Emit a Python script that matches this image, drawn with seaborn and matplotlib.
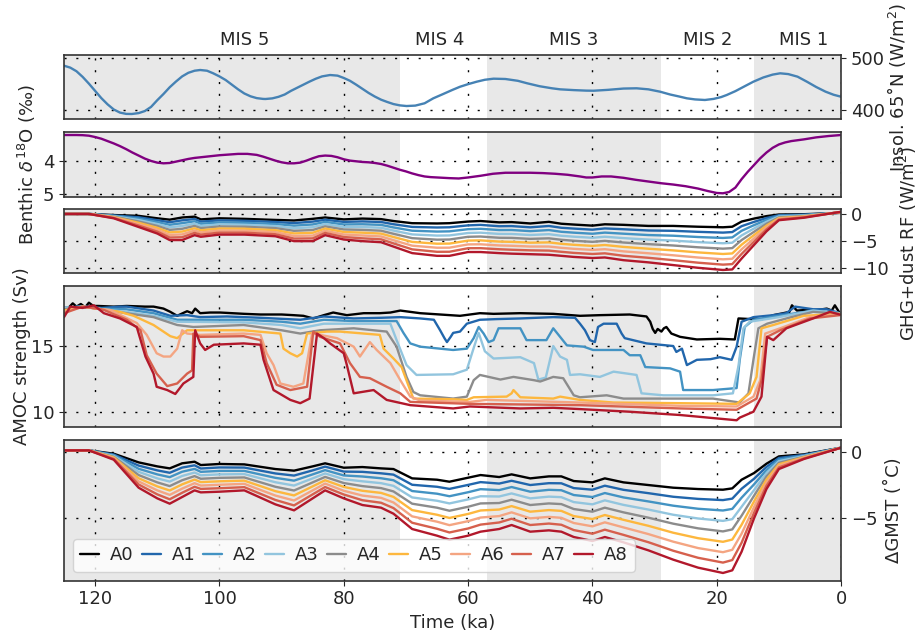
import pandas as pd
import matplotlib
matplotlib.use("Agg")
import matplotlib.pyplot as plt
from matplotlib.lines import Line2D
import seaborn as sns

sns.set_style("ticks")
plt.rcParams["font.family"] = ["DejaVu Sans"]
plt.rcParams["font.size"] = 13

RUNS = ["A0", "A1", "A2", "A3", "A4", "A5", "A6", "A7", "A8"]
COLORS = ["#000000", "#2166ac", "#4393c3", "#92c5de", "#8c8c8c",
          "#fdb73e", "#f4a582", "#d6604d", "#b2182b"]

MIS_LABELS = ["MIS 5", "MIS 4", "MIS 3", "MIS 2", "MIS 1"]
MIS_CENTERS = [96, 64.5, 43, 21.5, 6]
GRAY_SPANS = [(130, 71), (57, 29), (14, 0)]
XTICKS = [120, 100, 80, 60, 40, 20, 0]

# insolation 65N
INSOL_T = [125, 124, 123, 122, 121, 120, 119, 118, 117, 116, 115, 114.1,
           113, 112, 111, 110, 109, 108, 107, 106, 105, 104, 103.1,
           102, 101, 100, 99, 98, 97, 96, 95, 94, 93, 92.6,
           91.5, 90.5, 89.5, 88.5, 87.5, 86.5, 85.5, 84.5, 83.5, 82.2,
           81, 80, 79, 78, 77, 76, 75, 74, 73, 72, 71, 69.9,
           68.5, 67, 65.6, 64, 62.5, 61.3, 60, 58.6, 57.3, 55.9,
           54, 52, 50.5, 48.5, 46.5, 45.2, 43, 41, 39.8, 37.5, 35, 32.9,
           31, 29.1, 27.5, 26, 24.8, 23.5, 21.9,
           20.5, 19.3, 18.4, 17, 15.5, 14.1, 12.5, 11, 9.8,
           8.5, 7, 5.5, 4, 2.5, 1.2, 0]
INSOL_V = [485.7, 482, 475, 464, 451, 437, 423, 411, 401, 395, 392.5, 392.3,
           394, 398, 406, 419, 431, 444, 455, 465, 472, 476, 477.4,
           476, 471, 465, 458, 449, 440, 432, 426.5, 423, 421.5, 421.3,
           422.5, 425.5, 430, 437, 443, 449, 455, 460.5, 465, 467.7,
           466.5, 462, 456.5, 449, 441, 433, 426, 420, 415.5, 411.5, 409, 407.7,
           408.5, 413, 422.6, 431, 439, 445, 450, 454.8, 458.5, 460.6,
           460, 456.5, 451.7, 446, 442, 440, 438.5, 437.5, 437.3, 439, 441.5, 442,
           440, 435.4, 430, 426, 422.6, 420.5, 419.4,
           421.5, 425, 429, 436.5, 446, 454.8, 463, 468.5, 471,
           469.5, 464.5, 454.8, 444.5, 435.5, 429.5, 425.7]

# benthic d18O
BENTHIC_T = [125, 123, 122, 121, 120, 119, 118, 117, 116, 115, 114, 113, 112,
             111, 110, 109, 108, 107, 106, 105, 104, 103, 102, 101, 100, 98.5,
             97, 95.5, 94, 93, 92, 91, 90, 89, 88, 87, 86, 85, 84, 83, 82, 81,
             80, 79, 78, 77, 76, 75, 74, 73, 72, 71, 70, 69, 68, 67, 66, 65,
             63, 61.5, 60, 58, 56, 54, 52, 50, 48, 46, 44, 42, 41, 40, 38.5,
             37, 35, 33, 31, 29, 27, 25, 23, 21.5, 20, 19, 18, 17, 16, 15, 14,
             13, 12, 11, 10, 9, 8, 6, 4, 2, 0]
BENTHIC_V = [3.24, 3.24, 3.245, 3.26, 3.3, 3.35, 3.42, 3.49, 3.57, 3.66, 3.76, 3.85, 3.94,
             4.01, 4.06, 4.08, 4.07, 4.03, 3.99, 3.95, 3.92, 3.9, 3.88, 3.86, 3.84, 3.82,
             3.8, 3.8, 3.83, 3.88, 3.94, 4.0, 4.05, 4.08, 4.08, 4.06, 4.0, 3.93, 3.87, 3.85, 3.86, 3.9,
             3.96, 4.0, 4.02, 4.04, 4.05, 4.07, 4.1, 4.15, 4.21, 4.27, 4.32, 4.38, 4.43, 4.47, 4.49, 4.5,
             4.52, 4.53, 4.5, 4.45, 4.39, 4.36, 4.36, 4.36, 4.37, 4.39, 4.42, 4.47, 4.5, 4.5, 4.47,
             4.47, 4.51, 4.57, 4.62, 4.67, 4.71, 4.76, 4.83, 4.9, 4.96, 4.97, 4.93, 4.8, 4.55, 4.33, 4.13,
             3.93, 3.76, 3.62, 3.52, 3.46, 3.42, 3.37, 3.31, 3.27, 3.24]

# shared time axis for GHG+dust RF and GMST
TIME_FORCING = [125, 121, 117, 113, 110, 108, 106, 104, 103, 100, 96, 91, 88, 85,
                83, 80, 77, 74, 72, 69, 65, 63, 60, 58, 55, 53, 50, 47, 45, 43,
                40, 38, 35, 31, 27, 23, 19, 17.5, 16, 14, 12, 10, 6, 0]

RF_A0 = [0, 0, -0.2, -0.35, -0.8, -1.05, -0.65, -0.5, -1.0, -0.8, -0.9, -1.1, -1.2, -0.9, -0.65, -1.0, -0.85, -0.95, -1.3, -1.7, -1.75, -1.7, -1.4, -1.3, -1.55, -1.5, -1.75, -1.45, -1.8, -1.95, -2.15, -1.9, -2.0, -2.2, -2.2, -2.35, -2.45, -2.35, -1.4, -0.85, -0.4, -0.1, -0.05, 0.2]
RF_A1 = [0, 0, -0.28, -0.61, -1.15, -1.52, -1.17, -0.93, -1.4, -1.18, -1.26, -1.48, -1.68, -1.41, -1.06, -1.46, -1.37, -1.48, -1.89, -2.39, -2.49, -2.45, -2.1, -2.01, -2.26, -2.23, -2.46, -2.21, -2.54, -2.69, -2.89, -2.66, -2.81, -3.04, -3.1, -3.29, -3.43, -3.33, -2.25, -1.46, -0.75, -0.23, -0.13, 0.23]
RF_A2 = [0, 0, -0.35, -0.86, -1.5, -1.99, -1.69, -1.35, -1.8, -1.55, -1.63, -1.85, -2.15, -1.93, -1.46, -1.93, -1.89, -2.01, -2.48, -3.08, -3.24, -3.2, -2.8, -2.73, -2.96, -2.95, -3.16, -2.96, -3.28, -3.44, -3.64, -3.43, -3.63, -3.88, -4.0, -4.24, -4.41, -4.31, -3.1, -2.06, -1.1, -0.36, -0.21, 0.25]
RF_A3 = [0, 0, -0.43, -1.12, -1.85, -2.46, -2.21, -1.78, -2.2, -1.93, -1.99, -2.23, -2.63, -2.44, -1.87, -2.39, -2.41, -2.54, -3.06, -3.76, -3.98, -3.95, -3.5, -3.44, -3.67, -3.68, -3.87, -3.72, -4.01, -4.18, -4.38, -4.19, -4.44, -4.71, -4.9, -5.18, -5.39, -5.29, -3.95, -2.67, -1.45, -0.49, -0.29, 0.28]
RF_A4 = [0, 0, -0.5, -1.38, -2.2, -2.93, -2.73, -2.2, -2.6, -2.3, -2.35, -2.6, -3.1, -2.95, -2.28, -2.85, -2.93, -3.08, -3.65, -4.45, -4.73, -4.7, -4.2, -4.15, -4.38, -4.4, -4.58, -4.48, -4.75, -4.93, -5.13, -4.95, -5.25, -5.55, -5.8, -6.13, -6.38, -6.28, -4.8, -3.28, -1.8, -0.63, -0.38, 0.3]
RF_A5 = [0, 0, -0.58, -1.63, -2.55, -3.39, -3.24, -2.63, -3.0, -2.68, -2.71, -2.98, -3.58, -3.46, -2.68, -3.31, -3.44, -3.61, -4.24, -5.14, -5.47, -5.45, -4.9, -4.86, -5.08, -5.13, -5.28, -5.23, -5.49, -5.67, -5.87, -5.71, -6.06, -6.39, -6.7, -7.07, -7.36, -7.26, -5.65, -3.88, -2.15, -0.76, -0.46, 0.33]
RF_A6 = [0, 0, -0.65, -1.89, -2.9, -3.86, -3.76, -3.05, -3.4, -3.05, -3.08, -3.35, -4.05, -3.98, -3.09, -3.78, -3.96, -4.14, -4.83, -5.83, -6.21, -6.2, -5.6, -5.58, -5.79, -5.85, -5.99, -5.99, -6.23, -6.41, -6.61, -6.48, -6.88, -7.23, -7.6, -8.01, -8.34, -8.24, -6.5, -4.49, -2.5, -0.89, -0.54, 0.35]
RF_A7 = [0, 0, -0.73, -2.14, -3.25, -4.33, -4.28, -3.48, -3.8, -3.43, -3.44, -3.73, -4.53, -4.49, -3.49, -4.24, -4.48, -4.67, -5.41, -6.51, -6.96, -6.95, -6.3, -6.29, -6.49, -6.58, -6.69, -6.74, -6.96, -7.16, -7.36, -7.24, -7.69, -8.06, -8.5, -8.96, -9.32, -9.22, -7.35, -5.09, -2.85, -1.02, -0.62, 0.38]
RF_A8 = [0, 0, -0.8, -2.4, -3.6, -4.8, -4.8, -3.9, -4.2, -3.8, -3.8, -4.1, -5.0, -5.0, -3.9, -4.7, -5.0, -5.2, -6.0, -7.2, -7.7, -7.7, -7.0, -7.0, -7.2, -7.3, -7.4, -7.5, -7.7, -7.9, -8.1, -8.0, -8.5, -8.9, -9.4, -9.9, -10.3, -10.2, -8.2, -5.7, -3.2, -1.15, -0.7, 0.4]

GMST_A0 = [0.1, 0.1, -0.15, -0.8, -1.1, -1.25, -0.87, -0.75, -1.0, -0.92, -0.95, -1.3, -1.42, -1.1, -0.87, -1.2, -1.15, -1.25, -1.3, -2.0, -2.1, -2.25, -1.95, -1.75, -1.9, -1.7, -2.0, -1.85, -1.85, -2.2, -2.3, -2.0, -2.3, -2.5, -2.7, -2.8, -2.85, -2.75, -2.1, -1.6, -0.9, -0.35, -0.2, 0.3]
GMST_A1 = [0.1, 0.1, -0.21, -1.04, -1.4, -1.58, -1.19, -1.02, -1.26, -1.18, -1.19, -1.63, -1.79, -1.4, -1.12, -1.49, -1.51, -1.62, -1.72, -2.48, -2.63, -2.79, -2.49, -2.28, -2.39, -2.18, -2.5, -2.36, -2.37, -2.73, -2.85, -2.55, -2.86, -3.11, -3.38, -3.54, -3.63, -3.52, -2.78, -2.03, -1.14, -0.47, -0.24, 0.3]
GMST_A2 = [0.1, 0.1, -0.26, -1.28, -1.7, -1.91, -1.5, -1.29, -1.51, -1.44, -1.44, -1.96, -2.17, -1.7, -1.38, -1.78, -1.86, -1.99, -2.14, -2.95, -3.15, -3.34, -3.04, -2.81, -2.88, -2.65, -3.0, -2.86, -2.89, -3.25, -3.4, -3.1, -3.43, -3.73, -4.05, -4.28, -4.41, -4.29, -3.45, -2.45, -1.38, -0.59, -0.29, 0.3]
GMST_A3 = [0.1, 0.1, -0.32, -1.51, -2.0, -2.24, -1.82, -1.56, -1.77, -1.7, -1.68, -2.29, -2.54, -2.0, -1.63, -2.06, -2.22, -2.36, -2.56, -3.43, -3.68, -3.88, -3.58, -3.34, -3.36, -3.13, -3.5, -3.37, -3.41, -3.78, -3.95, -3.65, -3.99, -4.34, -4.73, -5.01, -5.19, -5.06, -4.13, -2.88, -1.61, -0.71, -0.33, 0.3]
GMST_A4 = [0.1, 0.1, -0.38, -1.75, -2.3, -2.58, -2.14, -1.83, -2.03, -1.96, -1.93, -2.63, -2.91, -2.3, -1.89, -2.35, -2.58, -2.73, -2.98, -3.9, -4.2, -4.43, -4.13, -3.88, -3.85, -3.6, -4.0, -3.88, -3.93, -4.3, -4.5, -4.2, -4.55, -4.95, -5.4, -5.75, -5.98, -5.83, -4.8, -3.3, -1.85, -0.83, -0.38, 0.3]
GMST_A5 = [0.1, 0.1, -0.43, -1.99, -2.6, -2.91, -2.45, -2.09, -2.28, -2.22, -2.17, -2.96, -3.28, -2.6, -2.14, -2.64, -2.93, -3.09, -3.39, -4.38, -4.73, -4.97, -4.67, -4.41, -4.34, -4.08, -4.5, -4.38, -4.44, -4.83, -5.05, -4.75, -5.11, -5.56, -6.08, -6.49, -6.76, -6.59, -5.48, -3.73, -2.09, -0.94, -0.42, 0.3]
GMST_A6 = [0.1, 0.1, -0.49, -2.23, -2.9, -3.24, -2.77, -2.36, -2.54, -2.48, -2.41, -3.29, -3.66, -2.9, -2.39, -2.93, -3.29, -3.46, -3.81, -4.85, -5.25, -5.51, -5.21, -4.94, -4.83, -4.55, -5.0, -4.89, -4.96, -5.35, -5.6, -5.3, -5.68, -6.18, -6.75, -7.23, -7.54, -7.36, -6.15, -4.15, -2.33, -1.06, -0.46, 0.3]
GMST_A7 = [0.1, 0.1, -0.54, -2.46, -3.2, -3.57, -3.08, -2.63, -2.79, -2.74, -2.66, -3.62, -4.03, -3.2, -2.65, -3.21, -3.64, -3.83, -4.23, -5.33, -5.78, -6.06, -5.76, -5.47, -5.31, -5.03, -5.5, -5.39, -5.48, -5.88, -6.15, -5.85, -6.24, -6.79, -7.43, -7.96, -8.32, -8.13, -6.83, -4.58, -2.56, -1.18, -0.51, 0.3]
GMST_A8 = [0.1, 0.1, -0.6, -2.7, -3.5, -3.9, -3.4, -2.9, -3.05, -3.0, -2.9, -3.95, -4.4, -3.5, -2.9, -3.5, -4.0, -4.2, -4.65, -5.8, -6.3, -6.6, -6.3, -6.0, -5.8, -5.5, -6.0, -5.9, -6.0, -6.4, -6.7, -6.4, -6.8, -7.4, -8.1, -8.7, -9.1, -8.9, -7.5, -5.0, -2.8, -1.3, -0.55, 0.3]

# AMOC strength, each run on its own time points
AMOC_T_A0 = [125, 124.3, 123.6, 123, 122.3, 121.6, 121, 120.3, 119.5, 117, 114.9, 112, 110.6, 109, 107.9, 106.8, 105.9, 105.2, 104.4, 103.9, 103.1, 101.5, 99.9, 96, 93.4, 90, 88.1, 86.5, 84.9, 83.2, 81.7, 79.5, 76.8, 74.2, 72.5, 70.9, 67.7, 64.5, 61.3, 58.1, 55.9, 51.6, 46.3, 42.0, 38.8, 34.0, 31.3, 30.7, 30.3, 29.9, 29.5, 28.9, 28.5, 28.1, 27.3, 25.9, 23.2, 19.5, 17.1, 16.5, 14.5, 13.0, 10.9, 9.3, 8.3, 7.9, 7.1, 5.5, 4.5, 3.0, 2.3, 1.5, 1.0, 0.2]
AMOC_A0 = [17.9, 17.9, 18.25, 18.0, 18.2, 17.95, 18.3, 18.05, 18.05, 18.0, 18.05, 18.0, 18.0, 17.85, 17.6, 17.3, 17.5, 17.65, 17.5, 17.85, 17.5, 17.55, 17.55, 17.45, 17.4, 17.4, 17.35, 17.3, 17.1, 17.35, 17.55, 17.35, 17.5, 17.5, 17.55, 17.7, 17.5, 17.4, 17.3, 17.5, 17.45, 17.5, 17.45, 17.3, 17.35, 17.4, 17.25, 16.85, 16.3, 16.0, 16.3, 16.1, 16.35, 16.45, 15.95, 15.7, 15.5, 15.55, 15.5, 17.1, 17.05, 17.0, 17.35, 17.5, 17.6, 18.1, 17.7, 17.75, 17.7, 17.8, 17.85, 17.7, 18.1, 17.5]
AMOC_T_A1 = [125, 123, 121, 119, 116, 114.9, 110.6, 107.9, 105.2, 103.1, 98.8, 93.4, 87.0, 83.2, 78.4, 74, 70.9, 67.7, 65.5, 64.5, 63.8, 63.4, 62.8, 62.4, 61.3, 60.2, 58.1, 55.4, 51.6, 46.3, 42.8, 42.0, 41.2, 40.4, 39.6, 39.1, 38.2, 36.1, 35.3, 34.8, 31.3, 27.0, 26.5, 25.6, 24.8, 23.2, 21, 19.5, 17.6, 16.8, 16.0, 14.1, 10.9, 8.8, 7.4, 4.5, 2.3, 0.2]
AMOC_A1 = [17.7, 18.0, 18.0, 17.9, 18.0, 18.0, 17.7, 17.3, 17.35, 17.2, 17.25, 17.15, 17.0, 17.25, 17.1, 17.15, 17.2, 17.1, 17.0, 16.2, 15.6, 15.3, 15.7, 16.0, 16.1, 16.7, 17.0, 17.05, 17.1, 17.2, 17.15, 16.7, 16.2, 15.45, 15.3, 16.45, 16.7, 16.7, 15.95, 15.6, 15.2, 15.0, 14.55, 14.8, 13.55, 13.95, 14.0, 14.15, 13.95, 14.95, 16.85, 17.2, 17.35, 17.5, 18.0, 17.8, 17.8, 17.5]
AMOC_T_A2 = [125, 122, 119, 115, 110.6, 106.8, 103.1, 96.1, 90, 87.0, 83.2, 78.4, 71.5, 70.4, 69.3, 67.7, 62.4, 60.2, 59.1, 58.3, 57.5, 56.7, 55.9, 55.1, 51.6, 50.6, 47.4, 46.3, 45.2, 44.1, 41.4, 39.9, 35.0, 34.0, 32.3, 31.5, 27.5, 25.9, 25.4, 20.6, 16.8, 16.3, 15.5, 14.1, 10, 4.5, 0.2]
AMOC_A2 = [17.9, 18.0, 17.85, 17.8, 17.5, 17.0, 17.0, 17.0, 16.85, 16.7, 17.0, 16.9, 16.9, 16.0, 15.2, 14.95, 14.7, 14.8, 15.6, 16.45, 15.95, 15.3, 15.45, 16.35, 16.35, 15.45, 15.45, 16.35, 15.7, 15.05, 14.95, 14.7, 14.7, 14.3, 14.3, 13.4, 13.3, 13.05, 11.65, 11.65, 11.8, 13.95, 16.45, 17.0, 17.3, 17.7, 17.5]
AMOC_T_A3 = [125, 122, 119, 115, 110.6, 106.8, 96.1, 90, 87.0, 83.2, 78.4, 72.5, 71.5, 69.9, 68.3, 62.4, 60.2, 59.0, 58.3, 57.3, 55.9, 51.6, 49.4, 48.7, 47.5, 46.3, 45.2, 44.1, 43.6, 42.0, 38.8, 36.6, 32.9, 32.1, 28.6, 20.6, 17.4, 16.5, 15.7, 14.7, 10, 4.5, 0.2]
AMOC_A3 = [17.9, 18.0, 17.8, 17.6, 17.3, 16.85, 16.8, 16.6, 16.35, 16.7, 16.7, 16.7, 15.45, 13.55, 12.8, 12.85, 13.2, 15.0, 16.0, 14.6, 14.05, 14.15, 13.7, 12.45, 12.6, 15.0, 14.2, 13.95, 12.8, 12.85, 12.65, 13.05, 12.8, 11.4, 11.25, 11.25, 11.4, 13.5, 16.35, 16.85, 17.2, 17.7, 17.5]
AMOC_T_A4 = [125, 122, 119, 115, 110.6, 106.8, 104.2, 96.1, 90, 87.0, 83.8, 78.4, 73.1, 71.5, 69.9, 68.8, 67.7, 62.4, 60.2, 59.1, 58.1, 54.8, 52.7, 49.4, 48.4, 46.3, 44.7, 43.0, 42.0, 37.7, 35.0, 20.6, 16.3, 14.9, 14.1, 13.3, 11.9, 8, 4.5, 0.2]
AMOC_A4 = [17.8, 18.0, 17.8, 17.5, 17.2, 16.6, 16.45, 16.6, 16.2, 15.95, 16.2, 16.35, 16.1, 14.95, 12.65, 11.5, 11.25, 11.0, 11.15, 12.4, 12.8, 12.45, 12.65, 12.4, 12.3, 12.65, 12.55, 11.25, 11.1, 11.25, 11.0, 11.0, 10.7, 11.4, 13.95, 16.35, 16.7, 17.2, 17.6, 17.45]
AMOC_T_A5 = [125, 122, 119, 116, 113.8, 110.6, 107.9, 106.8, 105.2, 103.1, 96.1, 90.2, 89.7, 88.6, 87.5, 86.7, 85.9, 82.7, 80.6, 74.2, 73.6, 72.0, 70.7, 69.6, 68.8, 62.4, 60.2, 59.1, 53.8, 53.0, 52.7, 52.2, 51.6, 46.3, 45.2, 42.0, 36.6, 25.9, 16.8, 14.7, 13.6, 12.8, 10.9, 6, 0.2]
AMOC_A5 = [17.7, 18.0, 17.8, 17.6, 17.3, 16.6, 15.75, 15.6, 16.2, 16.2, 16.2, 15.95, 14.8, 14.45, 14.2, 14.45, 15.95, 16.1, 16.1, 15.85, 14.8, 14.05, 13.4, 12.0, 11.0, 10.95, 10.9, 11.1, 11.15, 11.4, 11.65, 11.4, 11.1, 11.0, 11.15, 10.9, 10.7, 10.65, 10.6, 11.4, 12.65, 16.35, 16.6, 17.3, 17.45]
AMOC_T_A6 = [125, 122, 119, 117.6, 113.3, 111.7, 110.1, 109.0, 107.9, 106.8, 106.0, 105.2, 103.1, 96.1, 93.4, 92.4, 91.3, 90.2, 88.1, 86.5, 85.1, 83.8, 81.1, 78.4, 77.4, 75.8, 74.7, 72.5, 70.9, 69.3, 67.7, 59.7, 57.0, 42.0, 25.9, 16.8, 14.1, 13.0, 12.2, 9.8, 5, 0.2]
AMOC_A6 = [17.6, 18.0, 17.8, 17.75, 16.75, 15.85, 14.45, 14.2, 14.2, 14.8, 16.2, 15.95, 15.85, 15.95, 15.85, 14.45, 13.55, 12.15, 11.9, 12.15, 15.95, 15.85, 15.6, 14.95, 14.2, 15.3, 14.7, 13.7, 12.4, 11.15, 10.85, 10.75, 10.9, 10.7, 10.45, 10.4, 11.15, 12.4, 15.95, 16.35, 17.2, 17.4]
AMOC_T_A7 = [125, 122, 119, 118.6, 114.9, 112.7, 111.7, 110.1, 108.4, 106.8, 105.2, 104.4, 104.2, 103.1, 96.1, 93.4, 92.4, 90.8, 88.6, 85.9, 84.9, 83.8, 80.6, 79.0, 77.4, 75.8, 73.1, 70.9, 69.3, 59.7, 42.0, 25.9, 16.8, 13.6, 12.8, 11.9, 9.8, 5, 0.2]
AMOC_A7 = [17.5, 18.0, 17.8, 17.75, 17.0, 16.2, 14.3, 12.9, 11.95, 12.15, 12.9, 13.15, 15.95, 15.7, 15.75, 15.45, 13.7, 12.05, 11.65, 11.9, 16.1, 15.7, 15.2, 13.7, 12.65, 12.55, 11.9, 11.4, 10.75, 10.6, 10.5, 10.25, 10.15, 11.0, 12.4, 15.7, 16.2, 17.1, 17.35]
AMOC_T_A8 = [125, 124, 122, 120.2, 118.6, 116.0, 113.3, 111.9, 110.6, 110.1, 108.4, 107.1, 105.8, 104.2, 103.9, 103.1, 102.3, 100.9, 96.1, 93.4, 92.9, 91.3, 88.6, 87.0, 85.5, 84.3, 83.2, 82.2, 80.0, 79.5, 78.4, 75.2, 73.1, 69.3, 62.4, 59.7, 51.6, 46.3, 42.0, 34.0, 25.9, 16.8, 16.3, 14.1, 12.8, 11.9, 10.9, 8.8, 4.5, 1.8, 0.2]
AMOC_A8 = [17.2, 18.0, 17.9, 18.1, 17.5, 17.1, 16.45, 14.2, 12.9, 11.9, 11.65, 11.35, 12.15, 12.65, 16.2, 15.2, 14.7, 15.1, 15.2, 15.1, 13.95, 11.65, 10.9, 10.65, 11.0, 15.95, 15.6, 15.2, 14.45, 13.55, 11.4, 11.65, 10.9, 10.5, 10.25, 10.4, 10.25, 10.3, 10.2, 10.0, 9.75, 9.35, 9.55, 10.0, 11.15, 15.7, 15.45, 16.35, 17.1, 17.6, 17.4]

RF = [RF_A0, RF_A1, RF_A2, RF_A3, RF_A4, RF_A5, RF_A6, RF_A7, RF_A8]
GMST = [GMST_A0, GMST_A1, GMST_A2, GMST_A3, GMST_A4, GMST_A5, GMST_A6, GMST_A7, GMST_A8]
AMOC_T = [AMOC_T_A0, AMOC_T_A1, AMOC_T_A2, AMOC_T_A3, AMOC_T_A4, AMOC_T_A5, AMOC_T_A6, AMOC_T_A7, AMOC_T_A8]
AMOC = [AMOC_A0, AMOC_A1, AMOC_A2, AMOC_A3, AMOC_A4, AMOC_A5, AMOC_A6, AMOC_A7, AMOC_A8]


def long_frame(times, series):
    parts = []
    for run, t, v in zip(RUNS, times, series):
        parts.append(pd.DataFrame({"time": t, "value": v, "run": run}))
    return pd.concat(parts, ignore_index=True)


def draw_runs(ax, df):
    sns.lineplot(data=df, x="time", y="value", hue="run", hue_order=RUNS,
                 palette=COLORS, estimator=None, linewidth=1.7,
                 legend=False, ax=ax)


def style_axis(ax, side, label, label_xy, bottom=False):
    for a, b in GRAY_SPANS:
        ax.axvspan(a, b, color="lightgray", alpha=0.5, lw=0, zorder=0)
    ax.grid(True, color="k", linestyle=(0, (1.5, 7)), linewidth=1)
    ax.set_xlim(125, 0)
    ax.set_xticks(XTICKS)
    ax.set_ylabel(label)
    if side == "right":
        ax.yaxis.tick_right()
        ax.yaxis.set_label_position("right")
    ax.yaxis.set_label_coords(*label_xy)
    for s in ax.spines.values():
        s.set_color("#333333")
        s.set_linewidth(1.2)
    if bottom:
        ax.set_xlabel("Time (ka)")
    else:
        ax.set_xlabel("")
        ax.tick_params(axis="x", length=0, labelbottom=False)


fig = plt.figure(figsize=(9.2, 6.33), dpi=100)
left, width = 0.0696, 0.8446
ax1 = fig.add_axes([left, 0.812, width, 0.1011])
ax2 = fig.add_axes([left, 0.6893, width, 0.1022], sharex=ax1)
ax3 = fig.add_axes([left, 0.5692, width, 0.1002], sharex=ax1)
ax4 = fig.add_axes([left, 0.3259, width, 0.2223], sharex=ax1)
ax5 = fig.add_axes([left, 0.0826, width, 0.2223], sharex=ax1)

sns.lineplot(x=INSOL_T, y=INSOL_V, color="#4682b4", linewidth=1.7, ax=ax1)
ax1.set_ylim(382.6, 506.4)
ax1.set_yticks([400, 500])
style_axis(ax1, "right", "Insol. 65˚N (W/m$^2$)", (1.057, 0.5))
for lab, c in zip(MIS_LABELS, MIS_CENTERS):
    ax1.text(c, 1.23, lab, transform=ax1.get_xaxis_transform(),
             ha="center", va="center", fontsize=13)

sns.lineplot(x=BENTHIC_T, y=BENTHIC_V, color="purple", linewidth=1.7, ax=ax2)
ax2.set_ylim(5.07, 3.15)
ax2.set_yticks([4, 5])
style_axis(ax2, "left", "Benthic $\\delta^{18}$O (‰)", (-0.034, 0.5))

draw_runs(ax3, long_frame([TIME_FORCING] * 9, RF))
ax3.set_ylim(-10.8, 0.86)
ax3.set_yticks([-10, -5, 0])
style_axis(ax3, "right", "GHG+dust RF (W/m$^2$)", (1.072, 0.46))

draw_runs(ax4, long_frame(AMOC_T, AMOC))
ax4.set_ylim(8.86, 19.57)
ax4.set_yticks([10, 15])
style_axis(ax4, "left", "AMOC strength (Sv)", (-0.043, 0.5))

draw_runs(ax5, long_frame([TIME_FORCING] * 9, GMST))
ax5.set_ylim(-9.68, 0.88)
ax5.set_yticks([-5, 0])
style_axis(ax5, "right", "ΔGMST (˚C)", (1.057, 0.5), bottom=True)

handles = [Line2D([], [], color=c, linewidth=1.7) for c in COLORS]
ax5.legend(handles, RUNS, loc="lower left", ncol=9, fontsize=13,
           handlelength=1.05, handletextpad=0.6, columnspacing=0.45)

fig.savefig("out.png", dpi=100)
